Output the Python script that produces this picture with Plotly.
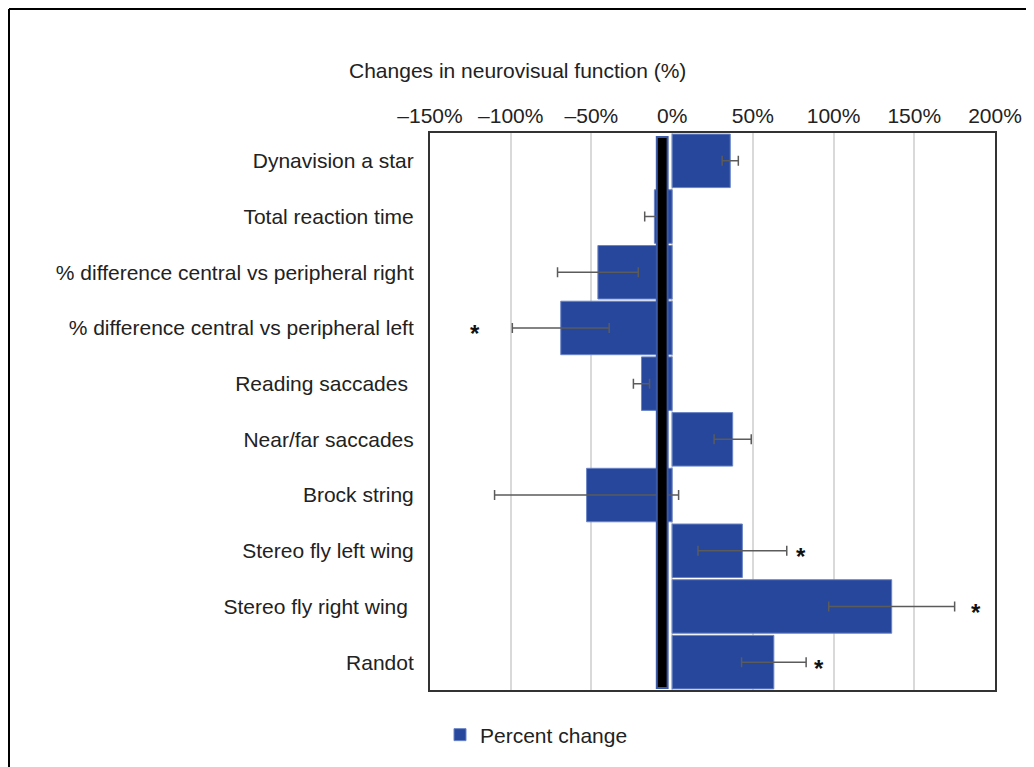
import plotly.graph_objects as go

categories = [
    "Dynavision a star",
    "Total reaction time",
    "% difference central vs peripheral right",
    "% difference central vs peripheral left",
    "Reading saccades ",
    "Near/far saccades",
    "Brock string",
    "Stereo fly left wing",
    "Stereo fly right wing ",
    "Randot",
]
percent_change = [36, -11, -46, -69, -19, 37.5, -53, 43.5, 136, 63]
error = [5, 6, 25, 30, 5, 11.5, 57, 27.5, 39, 20]
significant = [False, False, False, True, False, False, False, True, True, True]
star_x = [None, None, None, -122, None, None, None, 80, 188, 91]

tick_vals = [-150, -100, -50, 0, 50, 100, 150, 200]
tick_text = ["–150%", "–100%", "–50%", "0%", "50%", "100%", "150%", "200%"]

OFF = 8  # page body margin
W, H = 1034, 767
L, R, T, B = 430 - OFF, 995 - OFF, 133 - OFF, 690 - OFF


def px(xp):
    return (xp - OFF - L) / (R - L)


def py(yp):
    return (B - (yp - OFF)) / (B - T)


FONT = "Liberation Sans, Arial, sans-serif"
BLUE = "#27479d"
FS = 21

fig = go.Figure()
fig.add_trace(go.Bar(
    y=categories,
    x=percent_change,
    orientation="h",
    name="Percent change",
    marker=dict(color=BLUE, line=dict(color="#6a84c6", width=1)),
    error_x=dict(type="data", array=error, visible=True, color="#5b5b5b",
                 thickness=1.5, width=5),
))

annotations = [dict(text="Changes in neurovisual function (%)", xref="paper",
                    yref="paper", x=px(517), y=py(70), showarrow=False,
                    xanchor="center", yanchor="middle",
                    font=dict(family=FONT, size=FS, color="#222"))]
for x, c, s in zip(star_x, categories, significant):
    if s:
        annotations.append(dict(text="<b>*</b>", x=x, y=c, xref="x", yref="y",
                                showarrow=False, xanchor="center",
                                yanchor="middle", yshift=-6,
                                font=dict(family=FONT, size=24, color="#111")))

shapes = [
    # thick black bar near zero
    dict(type="rect", xref="x", yref="paper", x0=-9.5, x1=-2.8,
         y0=py(688), y1=py(137), fillcolor="#000000",
         line=dict(color="#3b5aa8", width=2), layer="above"),
    # outer frame (left and top edges)
    dict(type="line", xref="paper", yref="paper", x0=px(9), x1=px(9),
         y0=py(800), y1=py(9), line=dict(color="#000", width=2)),
    dict(type="line", xref="paper", yref="paper", x0=px(9), x1=px(1100),
         y0=py(9), y1=py(9), line=dict(color="#000", width=2)),
]

fig.update_layout(
    width=W, height=H,
    margin=dict(l=L, r=W - R, t=T, b=H - B, autoexpand=False),
    paper_bgcolor="white", plot_bgcolor="white",
    bargap=0.04,
    font=dict(family=FONT, size=FS, color="#222"),
    shapes=shapes,
    annotations=annotations,
    showlegend=True,
    legend=dict(orientation="h", x=px(440), y=py(735), xanchor="left",
                yanchor="middle", font=dict(family=FONT, size=FS, color="#222"),
                bgcolor="rgba(0,0,0,0)"),
)
fig.update_xaxes(
    side="top", range=[-150, 200], tickvals=tick_vals, ticktext=tick_text,
    showgrid=True, gridcolor="#d9d9d9", gridwidth=1.5, zeroline=False,
    showline=True, linecolor="#333", linewidth=2, mirror=True,
    ticks="", tickfont=dict(family=FONT, size=FS, color="#222"),
)
fig.update_yaxes(
    autorange="reversed", showgrid=False, zeroline=False,
    showline=True, linecolor="#333", linewidth=2, mirror=True,
    ticks="", ticklabelstandoff=10,
    tickfont=dict(family=FONT, size=FS, color="#222"),
)

fig.write_html("out.html")
